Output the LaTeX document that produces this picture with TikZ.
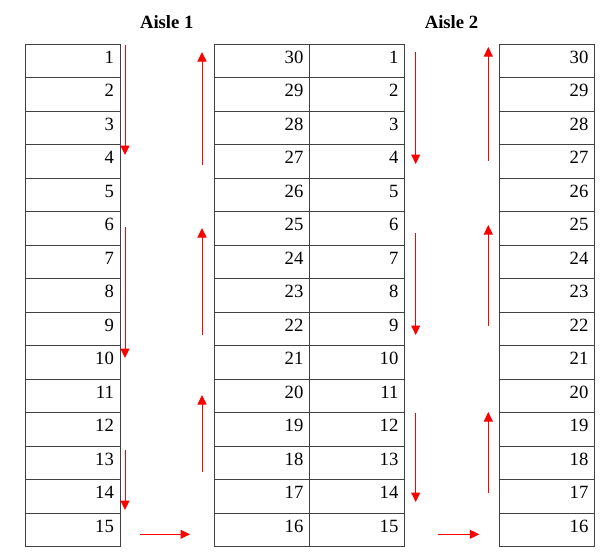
\documentclass[tikz,border=0pt]{standalone}
\usepackage{fontspec}
\setmainfont{Liberation Serif}
\usetikzlibrary{arrows.meta}
\begin{document}
\begin{tikzpicture}[x=1pt,y=-1pt,
  cell/.style={draw=black!75,line width=0.8pt,rectangle,anchor=north west,
    minimum width=95pt,minimum height=33.5pt,inner xsep=6pt,inner ysep=0pt,
    text width=83pt,align=right,text height=12pt,text depth=7.1pt,
    font=\fontsize{18.7}{20}\selectfont},
  title/.style={anchor=base,font=\fontsize{18.7}{20}\selectfont\bfseries},
  flow/.style={draw=red,line width=1pt,-{Triangle[length=9.5pt,width=9pt]}}]
\useasboundingbox (0,0) rectangle (606,554);
% cells
\foreach \r in {1,...,15}{
  \pgfmathtruncatemacro{\rev}{31-\r}
  \node[cell] (a-\r) at (24.5,{43.5+33.5*(\r-1)}) {\r};
  \node[cell] (b-\r) at (214,{43.5+33.5*(\r-1)}) {\rev};
  \node[cell] (c-\r) at (309,{43.5+33.5*(\r-1)}) {\r};
  \node[cell] (d-\r) at (499,{43.5+33.5*(\r-1)}) {\rev};
}
% titles
\node[title] (t1) at (166.75,28.3) {Aisle 1};
\node[title] (t2) at (451.5,28.3) {Aisle 2};
% arrow coordinates, aisle 1
\coordinate (p1s) at (125,45);   \coordinate (p1e) at (125,155);
\coordinate (p2s) at (125,227);  \coordinate (p2e) at (125,358);
\coordinate (p3s) at (125,450);  \coordinate (p3e) at (125,510);
\coordinate (q1s) at (202,165);  \coordinate (q1e) at (202,52);
\coordinate (q2s) at (202,335);  \coordinate (q2e) at (202,228);
\coordinate (q3s) at (202,472);  \coordinate (q3e) at (202,395);
\coordinate (h1s) at (140,534.3);\coordinate (h1e) at (190,534.3);
% arrow coordinates, aisle 2
\coordinate (r1s) at (415.7,52);  \coordinate (r1e) at (415.7,164);
\coordinate (r2s) at (415.7,233); \coordinate (r2e) at (415.7,335);
\coordinate (r3s) at (415.7,413); \coordinate (r3e) at (415.7,502);
\coordinate (s1s) at (488.3,161); \coordinate (s1e) at (488.3,47);
\coordinate (s2s) at (488.3,326); \coordinate (s2e) at (488.3,225);
\coordinate (s3s) at (488.3,493); \coordinate (s3e) at (488.3,412);
\coordinate (h2s) at (437.7,534.3);\coordinate (h2e) at (479.3,534.3);
\foreach \a in {p1,p2,p3,q1,q2,q3,h1,r1,r2,r3,s1,s2,s3,h2}
  \draw[flow] (\a s) -- (\a e);
\end{tikzpicture}
\end{document}
